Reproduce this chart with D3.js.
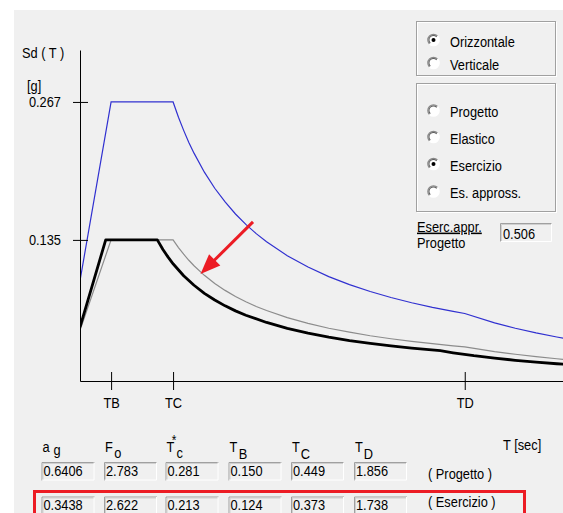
<!DOCTYPE html>
<html><head><meta charset="utf-8">
<script src="https://cdn.jsdelivr.net/npm/d3@7"></script>
<style>
html,body{margin:0;padding:0;background:#fff;}
svg{display:block;}
text{font-family:"Liberation Sans",Arial,sans-serif;}
</style>
</head><body>
<svg id="c" width="563" height="513"></svg>
<script>
// ---- data ----
const T_progetto = [0, 0.150, 0.449, 0.475, 0.5, 0.525, 0.55, 0.6, 0.65, 0.7, 0.75, 0.8, 0.85, 0.9, 1.0, 1.1, 1.2, 1.3, 1.4, 1.5, 1.6, 1.7, 1.8, 1.856, 2.0, 2.1, 2.2, 2.3, 2.4];
const sd_progetto = [0.096, 0.267, 0.267, 0.2524, 0.2398, 0.2283, 0.2180, 0.1998, 0.1844, 0.1713, 0.1598, 0.1499, 0.1410, 0.1332, 0.1199, 0.1090, 0.0999, 0.0922, 0.0856, 0.0799, 0.0749, 0.0705, 0.0666, 0.0646, 0.0556, 0.0505, 0.0460, 0.0421, 0.0386];
const sd_approx = [0.0485, 0.1351, 0.1351, 0.1277, 0.1213, 0.1155, 0.1103, 0.1011, 0.0933, 0.0867, 0.0809, 0.0759, 0.0713, 0.0674, 0.0607, 0.0552, 0.0505, 0.0467, 0.0433, 0.0404, 0.0379, 0.0357, 0.0337, 0.0327, 0.0281, 0.0256, 0.0233, 0.0213, 0.0195];
const T_esercizio = [0, 0.124, 0.373, 0.4, 0.425, 0.45, 0.5, 0.55, 0.6, 0.65, 0.7, 0.75, 0.8, 0.9, 1.0, 1.1, 1.2, 1.3, 1.4, 1.5, 1.6, 1.738, 1.8, 1.9, 2.0, 2.1, 2.2, 2.3, 2.4];
const sd_esercizio = [0.0515, 0.135, 0.135, 0.1259, 0.1185, 0.1119, 0.1007, 0.0916, 0.0839, 0.0775, 0.0719, 0.0671, 0.0629, 0.0560, 0.0504, 0.0458, 0.0420, 0.0387, 0.0360, 0.0336, 0.0315, 0.0290, 0.0270, 0.0242, 0.0219, 0.0198, 0.0181, 0.0165, 0.0152];

const yTickValues = [0.267, 0.135];
const xTickLabels = ["TB", "TC", "TD"];
const xTickValues = [0.150, 0.449, 1.856];

const arrowFrom = [0.8345, 0.1522]; // [T, Sd]
const arrowTo = [0.5813, 0.1024];

const paramMain = ["a", "F", "T", "T", "T", "T"];
const paramSup = ["", "", "*", "", "", ""];
const paramSub = ["g", "o", "c", "B", "C", "D"];
const paramProgetto = ["0.6406", "2.783", "0.281", "0.150", "0.449", "1.856"];
const paramEsercizio = ["0.3438", "2.622", "0.213", "0.124", "0.373", "1.738"];
const rowLabels = ["( Progetto )", "( Esercizio )"];

const direzioni = ["Orizzontale", "Verticale"];
const direzioneScelta = 0;
const spettri = ["Progetto", "Elastico", "Esercizio", "Es. appross."];
const spettroScelto = 2;
const ratioLabels = ["Eserc.appr.", "Progetto"];
const ratioValue = "0.506";

// ---- drawing ----
const svg = d3.select("#c");
const FS = 13.5;
svg.append("rect").attr("x", 14).attr("y", 10).attr("width", 549).attr("height", 503).attr("fill", "#f0f0f0");

const x = d3.scaleLinear().domain([0, 2.33]).range([80, 80 + 2.33 * 207.3]);
const y = d3.scaleLinear().domain([0, 0.3167]).range([381, 50]);

svg.append("clipPath").attr("id", "pc").append("rect")
  .attr("x", 80).attr("y", 40).attr("width", 483).attr("height", 345);

const line = d3.line().x(d => x(d[0])).y(d => y(d[1]));
const plot = svg.append("g").attr("clip-path", "url(#pc)");
plot.append("path").datum(d3.zip(T_progetto, sd_approx)).attr("d", line)
  .attr("fill", "none").attr("stroke", "#8c8c8c").attr("stroke-width", 1.2);
plot.append("path").datum(d3.zip(T_progetto, sd_progetto)).attr("d", line)
  .attr("fill", "none").attr("stroke", "#3030d0").attr("stroke-width", 1.2);
plot.append("path").datum(d3.zip(T_esercizio, sd_esercizio)).attr("d", line)
  .attr("fill", "none").attr("stroke", "#000").attr("stroke-width", 2.8).attr("stroke-linejoin", "round");

// y axis
const yAx = svg.append("g").attr("transform", "translate(80,0)")
  .call(d3.axisLeft(y).tickValues(yTickValues).tickSizeInner(7).tickSizeOuter(0).tickPadding(12).tickFormat(d3.format(".3f")));
yAx.attr("font-family", "'Liberation Sans',Arial,sans-serif").attr("font-size", FS);
yAx.selectAll(".tick line").attr("x1", -7).attr("x2", 8).attr("stroke", "#000");
yAx.selectAll(".tick text").attr("fill", "#000").attr("dy", "0.28em");
yAx.select(".domain").attr("stroke", "#000");

// x axis
const xAx = svg.append("g").attr("transform", "translate(0,381)")
  .call(d3.axisBottom(x).tickValues(xTickValues).tickSizeInner(9).tickSizeOuter(0).tickPadding(7)
    .tickFormat((d, i) => xTickLabels[i]));
xAx.attr("font-family", "'Liberation Sans',Arial,sans-serif").attr("font-size", FS);
xAx.selectAll(".tick line").attr("y1", -9).attr("y2", 9).attr("stroke", "#000");
xAx.selectAll(".tick text").attr("fill", "#000");
xAx.select(".domain").attr("stroke", "#000");

svg.append("text").attr("x", 22).attr("y", 58).attr("font-size", FS).text("Sd ( T )");
svg.append("text").attr("x", 27).attr("y", 91).attr("font-size", FS).text("[g]");

// red arrow
{
  const x0 = x(arrowFrom[0]), y0 = y(arrowFrom[1]), x1 = x(arrowTo[0]), y1 = y(arrowTo[1]);
  const dx = x1 - x0, dy = y1 - y0, L = Math.hypot(dx, dy), ux = dx / L, uy = dy / L;
  const hl = 20, hw = 8;
  const bx = x1 - ux * hl, by = y1 - uy * hl;
  svg.append("line").attr("x1", x0).attr("y1", y0).attr("x2", bx + ux * 2).attr("y2", by + uy * 2)
    .attr("stroke", "#ec1c24").attr("stroke-width", 3);
  svg.append("path").attr("d", `M${x1},${y1}L${bx - uy * hw},${by + ux * hw}L${bx + uy * hw},${by - ux * hw}Z`)
    .attr("fill", "#ec1c24");
}

// right panel
function groupBox(x0, y0, w, h) {
  svg.append("rect").attr("x", x0 + 1).attr("y", y0 + 1).attr("width", w).attr("height", h)
    .attr("fill", "none").attr("stroke", "#ffffff");
  svg.append("rect").attr("x", x0).attr("y", y0).attr("width", w).attr("height", h)
    .attr("fill", "none").attr("stroke", "#a0a0a0");
}
const arc = d3.arc();
function radio(cx, cy, checked) {
  const g = svg.append("g").attr("transform", `translate(${cx},${cy})`);
  g.append("circle").attr("r", 5.5).attr("fill", "#ffffff");
  g.append("path").attr("d", arc({innerRadius: 5, outerRadius: 6.3, startAngle: -3 * Math.PI / 4, endAngle: Math.PI / 4})).attr("fill", "#8a8a8a");
  g.append("path").attr("d", arc({innerRadius: 4, outerRadius: 5, startAngle: -3 * Math.PI / 4, endAngle: Math.PI / 4})).attr("fill", "#5a5a5a");
  g.append("path").attr("d", arc({innerRadius: 5, outerRadius: 6.3, startAngle: Math.PI / 4, endAngle: 5 * Math.PI / 4})).attr("fill", "#ffffff");
  if (checked) g.append("circle").attr("r", 2).attr("fill", "#000");
}
function sunken(x0, y0, w, h) {
  svg.append("rect").attr("x", x0).attr("y", y0).attr("width", w).attr("height", h).attr("fill", "#f0f0f0");
  svg.append("path").attr("d", `M${x0 + 0.5},${y0 + h}V${y0 + 0.5}H${x0 + w}`).attr("fill", "none").attr("stroke", "#a0a0a0");
  svg.append("path").attr("d", `M${x0 + 0.5},${y0 + h - 0.5}H${x0 + w - 0.5}V${y0 + 0.5}`).attr("fill", "none").attr("stroke", "#ffffff");
  svg.append("path").attr("d", `M${x0 + 1.5},${y0 + h - 1}V${y0 + 1.5}H${x0 + w - 1}`).attr("fill", "none").attr("stroke", "#d0d0d0");
}

groupBox(416.5, 21.5, 139, 54);
const dirY = [40, 63];
direzioni.forEach((d, i) => {
  radio(433.5, dirY[i], i === direzioneScelta);
  svg.append("text").attr("x", 450).attr("y", dirY[i] + 6.5).attr("font-size", FS).text(d);
});
groupBox(416.5, 83.5, 139, 128);
const spY = [110.5, 137, 164, 191.5];
spettri.forEach((d, i) => {
  radio(433.5, spY[i], i === spettroScelto);
  svg.append("text").attr("x", 450).attr("y", spY[i] + 6.5).attr("font-size", FS).text(d);
});
svg.append("text").attr("x", 417).attr("y", 231.5).attr("font-size", FS).attr("text-decoration", "underline").text(ratioLabels[0]);
svg.append("text").attr("x", 417).attr("y", 247.5).attr("font-size", FS).text(ratioLabels[1]);
sunken(500, 223, 52, 19);
svg.append("text").attr("x", 503).attr("y", 238.5).attr("font-size", FS).text(ratioValue);

// parameter table
const colX = [41.5, 104, 165.5, 228.5, 291, 354];
const subDy = [3, 5.5, 5.5, 6, 6, 6];
const subDx = [4, 1.5, 2, 1.5, 1, 1];
paramMain.forEach((m, i) => {
  const t = svg.append("text").attr("x", colX[i] + 1).attr("y", 452).attr("font-size", FS);
  t.append("tspan").text(m);
  if (paramSup[i]) {
    t.append("tspan").attr("x", 5.5).attr("dy", -6.5).attr("font-size", 12.5).text(paramSup[i]);
    t.append("tspan").attr("x", 10.5).attr("dy", 12).text(paramSub[i]);
  } else {
    t.append("tspan").attr("dx", subDx[i]).attr("dy", subDy[i]).text(paramSub[i]);
  }
});
svg.append("text").attr("x", 503).attr("y", 450).attr("font-size", FS).text("T [sec]");

const rowTop = [462, 496.5];
const rowLabelY = [478.5, 507];
[paramProgetto, paramEsercizio].forEach((row, r) => {
  const top = rowTop[r];
  row.forEach((v, i) => {
    sunken(colX[i], top, 53, 18.5);
    svg.append("text").attr("x", colX[i] + 2).attr("y", top + 13.5).attr("font-size", FS).text(v);
  });
  svg.append("text").attr("x", 428).attr("y", rowLabelY[r]).attr("font-size", FS).text(rowLabels[r]);
});

// red highlight rectangle
svg.append("rect").attr("x", 34.5).attr("y", 491.5).attr("width", 490).attr("height", 40)
  .attr("fill", "none").attr("stroke", "#ec1c24").attr("stroke-width", 3);

// emulate the taller, narrower dialog font
svg.selectAll("text").each(function () {
  const t = d3.select(this);
  const tx = +t.attr("x") || 0, ty = +t.attr("y") || 0;
  t.attr("x", 0).attr("y", 0).attr("transform", `translate(${tx},${ty}) scale(0.95,1.15)`);
});
</script>
</body></html>
